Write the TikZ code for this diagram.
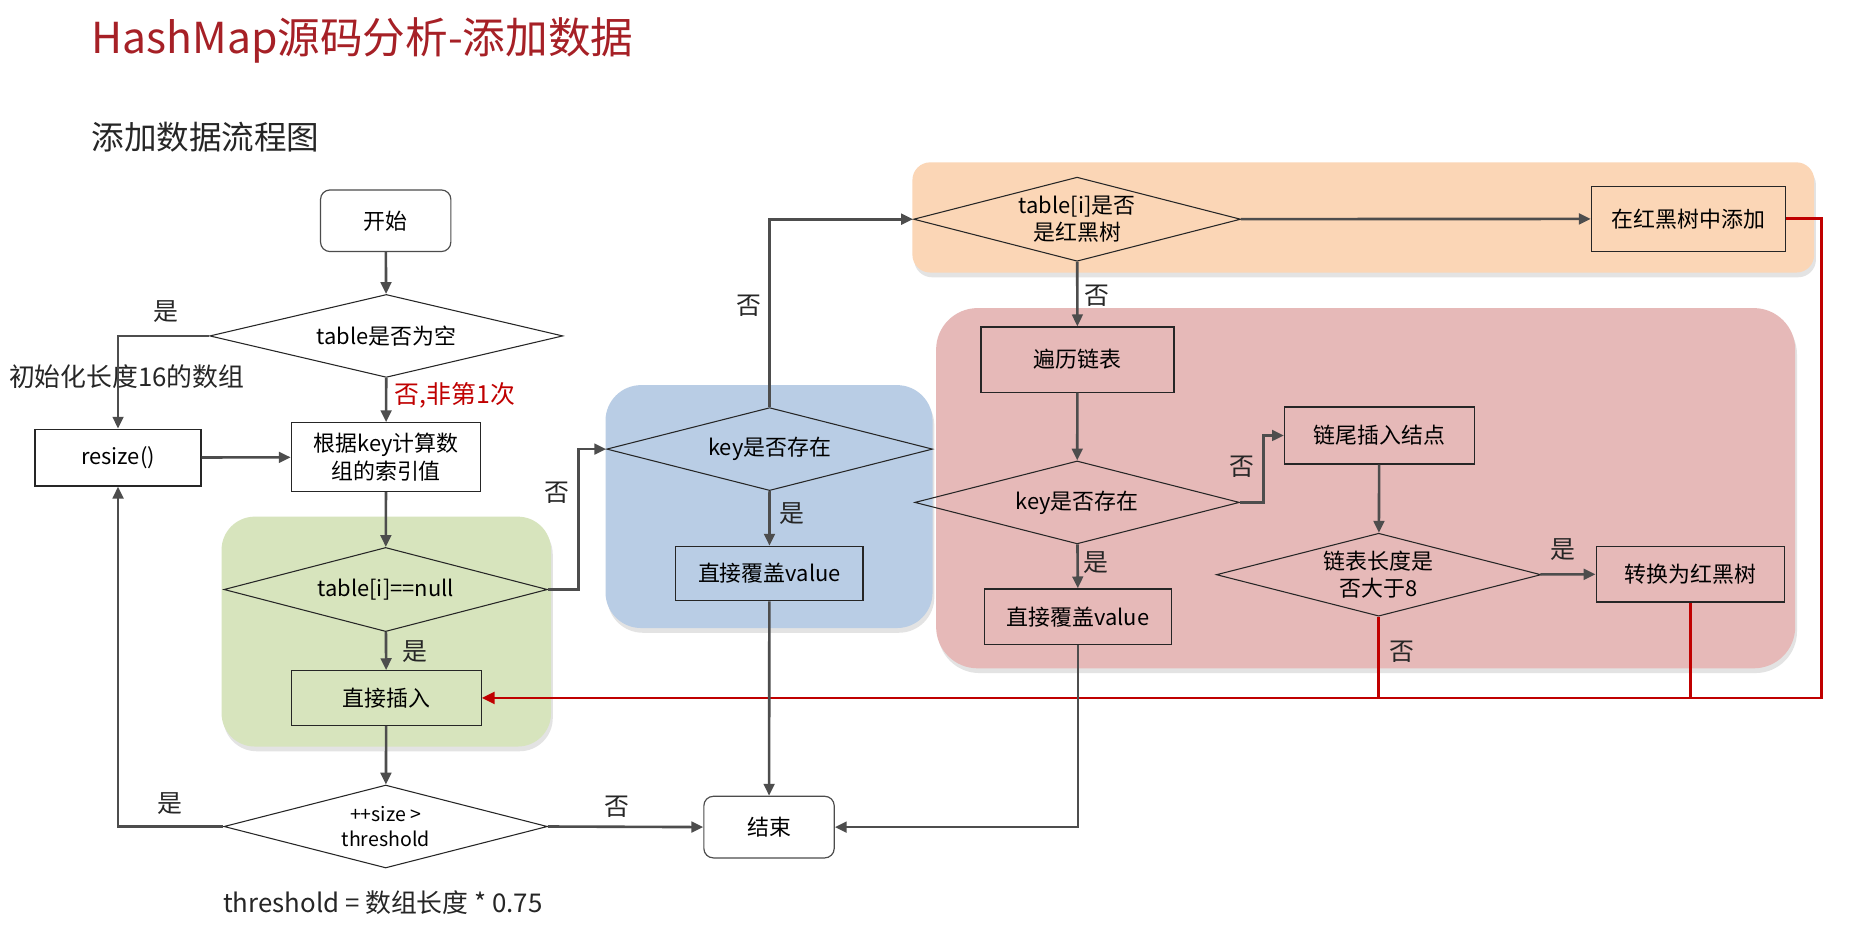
\documentclass[tikz,border=0pt]{standalone}
\usepackage{fontspec}
\setmainfont{Noto Sans CJK SC}
\usepackage{tikz}
\usetikzlibrary{shapes.geometric, arrows.meta, shadows}
\usepackage{xcolor}
\definecolor{panelgreen}{RGB}{215,228,189}
\definecolor{panelblue}{RGB}{185,205,229}
\definecolor{panelorange}{RGB}{251,214,182}
\definecolor{panelpink}{RGB}{230,185,184}
\definecolor{linered}{RGB}{192,0,0}
\definecolor{arrowgray}{RGB}{77,77,77}
\definecolor{titlered}{RGB}{166,32,38}
\newcommand\boxtxt{\fontsize{18.5}{23}\selectfont}
\newcommand\tagtxt{\fontsize{21}{25}\selectfont}
\newcommand\notetxt{\fontsize{21.8}{26}\selectfont}
\newcommand\smalltxt{\fontsize{16.5}{21}\selectfont}
\tikzstyle{process} = [rectangle, minimum width=160pt, minimum height=47pt, text centered, align=center, draw=black!85, line width=1pt, font=\boxtxt]
\tikzstyle{startstop} = [rectangle, rounded corners=8pt, minimum width=110pt, minimum height=52pt, draw=black!70, line width=1pt, fill=white, font=\boxtxt]
\tikzstyle{decision} = [diamond, aspect=3.9, inner sep=0pt, minimum width=274pt, minimum height=70pt, align=center, draw=black!85, line width=0.9pt, font=\boxtxt]
\tikzstyle{arrow} = [line width=2.2pt, draw=arrowgray, ->, >={Triangle[length=10pt,width=9pt]}]
\tikzstyle{backarrow} = [line width=2.4pt, draw=linered, ->, >={Triangle[length=11pt,width=10pt]}]
\tikzstyle{backline} = [line width=2.4pt, draw=linered]
\tikzstyle{panel} = [draw=none, drop shadow={opacity=0.22, shadow xshift=1.5pt, shadow yshift=-4pt}]
\tikzstyle{tag} = [font=\tagtxt, text=black!85, inner sep=0pt]

\begin{document}
\begin{tikzpicture}[x=1pt, y=-1pt]
    \fill[white] (0,0) rectangle (1568,789);
    \useasboundingbox (0,0) rectangle (1568,789);

    % coloured panels
    \fill[panel, panelgreen, rounded corners=28pt] (187,436) rectangle (465,630);
    \fill[panel, panelblue, rounded corners=30pt] (511,325) rectangle (787,530);
    \fill[panel, panelorange, rounded corners=15pt] (770,137) rectangle (1531,230);
    \fill[panel, panelpink, rounded corners=35pt] (790,260) rectangle (1515,564);

    \node (title) [anchor=base west, inner sep=0pt, text=titlered, font=\fontsize{36}{41}\selectfont] at (77,45) {HashMap源码分析-添加数据};
    \node (subtitle) [anchor=base west, inner sep=0pt, text=black!85, font=\fontsize{27.5}{32}\selectfont] at (77,126) {添加数据流程图};

    % left column
    \node (start) [startstop] at (325.5,186.3) {开始};
    \node (emptychk) [decision, minimum width=298pt] at (326,283.5) {table是否为空};
    \node (resize) [process, minimum width=140pt, minimum height=48pt] at (99.6,386.2) {resize()};
    \node (calcidx) [process, minimum height=58pt] at (325.8,385.8) {根据key计算数\\组的索引值};
    \node (nullchk) [decision, minimum width=273pt, minimum height=71pt] at (325.5,497.5) {table[i]==null};
    \node (insert) [process, minimum height=46pt] at (326,589) {直接插入};
    \node (sizechk) [decision, minimum width=273pt, font=\smalltxt] at (325.5,697.5) {++size >\\threshold};
    \node (stop) [startstop] at (649,698) {结束};

    % middle column
    \node (keychk) [decision, minimum width=275pt] at (649.5,379) {key是否存在};
    \node (cover) [process, minimum width=158pt, minimum height=46pt] at (649.3,484) {直接覆盖value};

    % right part
    \node (treechk) [decision, minimum width=276pt, minimum height=71pt] at (909,185) {table[i]是否\\是红黑树};
    \node (treeadd) [process, minimum width=164pt, minimum height=55pt] at (1425,184.7) {在红黑树中添加};
    \node (traverse) [process, minimum width=163pt, minimum height=55pt] at (909.3,303.4) {遍历链表};
    \node (listkeychk) [decision] at (909,424) {key是否存在};
    \node (tailins) [process, minimum height=48pt] at (1164,367.5) {链尾插入结点};
    \node (lenchk) [decision] at (1163.5,485) {链表长度是\\否大于8};
    \node (totree) [process, minimum width=159pt] at (1426.5,484.5) {转换为红黑树};
    \node (listcover) [process, minimum width=158pt] at (909.8,520.5) {直接覆盖value};

    \coordinate (redcorner) at (1537.5,589);

    % labels
    \node (initnote) [font=\notetxt, text=black!85, inner sep=0pt] at (107,318) {初始化长度16的数组};
    \node (thresnote) [font=\notetxt, text=black!85, inner sep=0pt] at (323,762) {threshold = 数组长度 * 0.75};
    \node (yes1) [tag] at (140,263) {是};
    \node (no1) [tag, text=linered] at (384,334) {否,非第1次};
    \node (yes2) [tag] at (350,550) {是};
    \node (yes3) [tag] at (143,678) {是};
    \node (no2) [tag] at (521,681) {否};
    \node (no3) [tag] at (470,416) {否};
    \node (yes4) [tag] at (668,433) {是};
    \node (no4) [tag] at (632,258) {否};
    \node (no5) [tag] at (926,250) {否};
    \node (no6) [tag] at (1048,394) {否};
    \node (yes5) [tag] at (1319,464) {是};
    \node (yes6) [tag] at (925,475) {是};
    \node (no7) [tag] at (1183,550) {否};

    % red lines back to insert
    \draw [backarrow] (treeadd.east) -| (redcorner) -- (insert.east);
    \draw [backline] (lenchk.south) -- (lenchk.south |- redcorner);
    \draw [backline] (totree.south) -- (totree.south |- redcorner);

    \draw [arrow] (start) -- (emptychk);
    \draw [arrow] (emptychk.west) -| (resize.north);
    \draw [arrow] (emptychk) -- (calcidx);
    \draw [arrow] (resize) -- (calcidx);
    \draw [arrow] (calcidx) -- (nullchk);
    \draw [arrow] (nullchk) -- (insert);
    \draw [arrow] (insert) -- (sizechk);
    \draw [arrow] (sizechk.west) -| (resize.south);
    \draw [arrow] (sizechk.east) -- (stop.west);
    \draw [arrow] (nullchk.east) -- ++(25.7,0) |- (keychk.west);
    \draw [arrow] (keychk) -- (cover);
    \draw [arrow] (cover) -- (stop);
    \draw [arrow] (keychk.north) |- (treechk.west);
    \draw [arrow] (treechk) -- (treeadd);
    \draw [arrow] (treechk) -- (traverse);
    \draw [arrow] (traverse) -- (listkeychk);
    \draw [arrow] (listkeychk.east) -- ++(20,0) |- (tailins.west);
    \draw [arrow] (tailins) -- (lenchk);
    \draw [arrow] (lenchk) -- (totree);
    \draw [arrow] (listkeychk) -- (listcover);
    \draw [arrow] (listcover.south) |- (stop.east);
\end{tikzpicture}
\end{document}
